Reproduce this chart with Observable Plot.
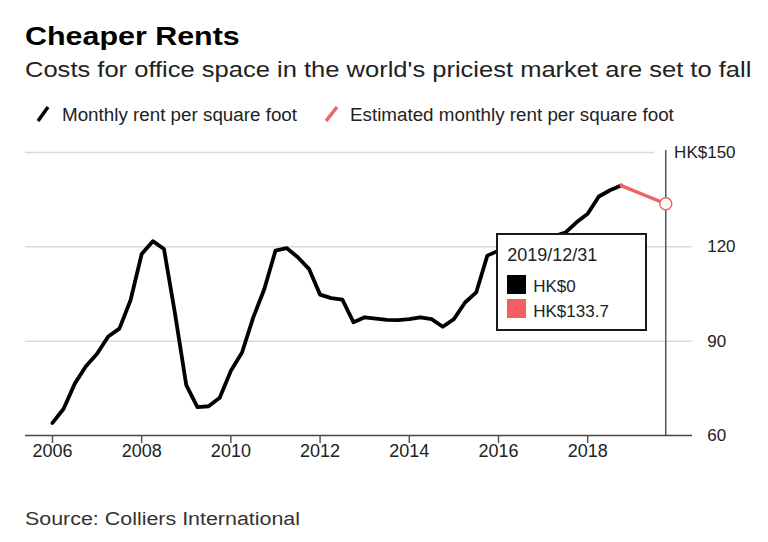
<!DOCTYPE html>
<html>
<head>
<meta charset="utf-8">
<script src="https://cdn.jsdelivr.net/npm/d3@7"></script>
<script src="https://cdn.jsdelivr.net/npm/@observablehq/plot@0.6"></script>
<style>
  html, body { margin: 0; padding: 0; background: #fff; }
  body { width: 768px; height: 542px; position: relative; overflow: hidden;
         font-family: "Liberation Sans", Arial, sans-serif; color: #1a1a1a; }
  .abs { position: absolute; white-space: nowrap; transform-origin: 0 0; line-height: 1; }
  #title { left: 25px; top: 23px; font-size: 26px; font-weight: bold; color: #000; transform: scaleX(1.17); }
  #subtitle { left: 25px; top: 59px; font-size: 22px; color: #222; transform: scaleX(1.16); }
  .leg { top: 106px; font-size: 18px; color: #222; transform: scaleX(1.044); }
  .icon { position: absolute; top: 105px; }
  #source { left: 25px; top: 510px; font-size: 18px; color: #333; transform: scaleX(1.19); }
  #chart { position: absolute; left: 0; top: 132px; }
  #tip { position: absolute; width: 151px; height: 98px; box-sizing: border-box;
         border: 2px solid #1a1a1a; background: #fff; z-index: 5; }
  #tip .t { position: absolute; white-space: nowrap; line-height: 1; color: #222; }
  #tip .sw { position: absolute; width: 19px; height: 19px; }
</style>
</head>
<body>
<div id="title" class="abs">Cheaper Rents</div>
<div id="subtitle" class="abs">Costs for office space in the world's priciest market are set to fall</div>

<svg class="icon" style="left:36px" width="14" height="18"><line x1="2" y1="16" x2="12" y2="2" stroke="#000" stroke-width="3.5"/></svg>
<div class="abs leg" style="left:62px">Monthly rent per square foot</div>
<svg class="icon" style="left:324px" width="16" height="18"><line x1="2" y1="16" x2="13" y2="2" stroke="#ec6565" stroke-width="3.5"/></svg>
<div class="abs leg" style="left:350px">Estimated monthly rent per square foot</div>

<div id="chart"></div>

<div id="tip">
  <div class="t" id="tipDate" style="left:9px; top:11px; font-size:18px;"></div>
  <div class="sw" style="left:9px; top:40px; background:#000;"></div>
  <div class="t" id="tipA" style="left:35px; top:43px; font-size:17px;"></div>
  <div class="sw" style="left:9px; top:64px; background:#f45e5e;"></div>
  <div class="t" id="tipE" style="left:35px; top:68px; font-size:17px;"></div>
</div>

<div id="source" class="abs">Source: Colliers International</div>

<script>
// ---- data ----
const quarters = [
  2006.00, 2006.25, 2006.50, 2006.75, 2007.00, 2007.25, 2007.50, 2007.75,
  2008.00, 2008.25, 2008.50, 2008.75, 2009.00, 2009.25, 2009.50, 2009.75,
  2010.00, 2010.25, 2010.50, 2010.75, 2011.00, 2011.25, 2011.50, 2011.75,
  2012.00, 2012.25, 2012.50, 2012.75, 2013.00, 2013.25, 2013.50, 2013.75,
  2014.00, 2014.25, 2014.50, 2014.75, 2015.00, 2015.25, 2015.50, 2015.75,
  2016.00, 2016.25, 2016.50, 2016.75, 2017.00, 2017.25, 2017.50, 2017.75,
  2018.00, 2018.25, 2018.50, 2018.75
];
const rent = [
  64.0, 68.5, 76.5, 82.0, 86.0, 91.5, 94.0, 103.0,
  117.7, 121.8, 119.3, 98.5, 76.0, 69.0, 69.3, 72.0,
  80.6, 86.4, 97.5, 106.6, 118.8, 119.6, 116.7, 113.0,
  104.8, 103.7, 103.2, 96.0, 97.6, 97.2, 96.8, 96.7,
  97.0, 97.6, 97.0, 94.6, 97.0, 102.3, 105.5, 117.2,
  118.8, 120.0, 121.0, 121.8, 122.5, 123.4, 124.5, 127.8,
  130.5, 136.0, 138.0, 139.5
];
const estQuarters = [2018.75, 2019.75];
const estRent = [139.5, 133.7];

const xTicks = [2006, 2008, 2010, 2012, 2014, 2016, 2018];
const yTicks = [60, 90, 120, 150];
const yPrefix = "HK$";
const xDomain = [2005.395, 2020.35];
const yDomain = [60, 150];

const crossDate = 2019.75;
const crossLabel = "2019/12/31";
const crossActual = 0;
const crossEst = 133.7;

// ---- tables ----
const actual = quarters.map((t, i) => ({t, v: rent[i]}));
const est = estQuarters.map((t, i) => ({t, v: estRent[i]}));

const black = "#000";
const salmon = "#ec6565";
const grid = "#d9d9d9";

const svgTop = 132;

const chart = Plot.plot({
  width: 768,
  height: 350,
  marginTop: 20,
  marginBottom: 47,
  marginLeft: 25,
  marginRight: 76,
  x: {domain: xDomain, axis: null},
  y: {domain: yDomain, axis: null},
  style: {fontFamily: "'Liberation Sans', Arial, sans-serif", fontSize: "17px", color: "#222", background: "transparent", overflow: "visible"},
  marks: [
    Plot.ruleY(yTicks.filter(d => d > yDomain[0] && d < yDomain[1]), {y: d => d, stroke: grid, strokeWidth: 1.5}),
    Plot.ruleY([yDomain[1]], {y: d => d, x1: () => xDomain[0], x2: () => crossDate, insetRight: 11, stroke: grid, strokeWidth: 1.5}),
    Plot.ruleX([crossDate], {x: d => d, y1: () => yDomain[1], y2: () => yDomain[0], insetTop: -2, stroke: "#555", strokeWidth: 1.5}),
    Plot.ruleY([yDomain[0]], {y: d => d, stroke: "#444", strokeWidth: 1.5}),
    Plot.ruleX(xTicks, {x: d => d, y1: () => yDomain[0], y2: () => yDomain[0], insetBottom: -8, stroke: "#555", strokeWidth: 1.5}),
    Plot.line(actual, {x: "t", y: "v", stroke: black, strokeWidth: 3.8, strokeLinejoin: "round"}),
    Plot.line(est, {x: "t", y: "v", stroke: salmon, strokeWidth: 3.5}),
    Plot.dot(est.slice(-1), {x: "t", y: "v", r: 6, fill: "#fff", stroke: salmon, strokeWidth: 1.5}),
    Plot.text(xTicks, {x: d => d, frameAnchor: "bottom", dy: 21, text: d => String(d), fontSize: 18, fill: "#222"}),
    Plot.text(yTicks, {y: d => d, frameAnchor: "right", dx: 14.7, textAnchor: "start", text: d => String(d), fontSize: 17, fill: "#222"}),
    Plot.text([yDomain[1]], {y: d => d, frameAnchor: "right", dx: 14.7, textAnchor: "end", text: () => yPrefix, fontSize: 17, fill: "#222"})
  ]
});
document.getElementById("chart").appendChild(chart);

// tooltip placed from the chart's scales
const xs = chart.scale("x"), ys = chart.scale("y");
const cx = xs.apply(crossDate);
const cy = ys.apply(crossEst) + svgTop;
const tip = document.getElementById("tip");
tip.style.left = (cx - 18 - 151) + "px";
tip.style.top = (cy + 30) + "px";
document.getElementById("tipDate").textContent = crossLabel;
document.getElementById("tipA").textContent = yPrefix + crossActual;
document.getElementById("tipE").textContent = yPrefix + crossEst;
</script>
</body>
</html>
